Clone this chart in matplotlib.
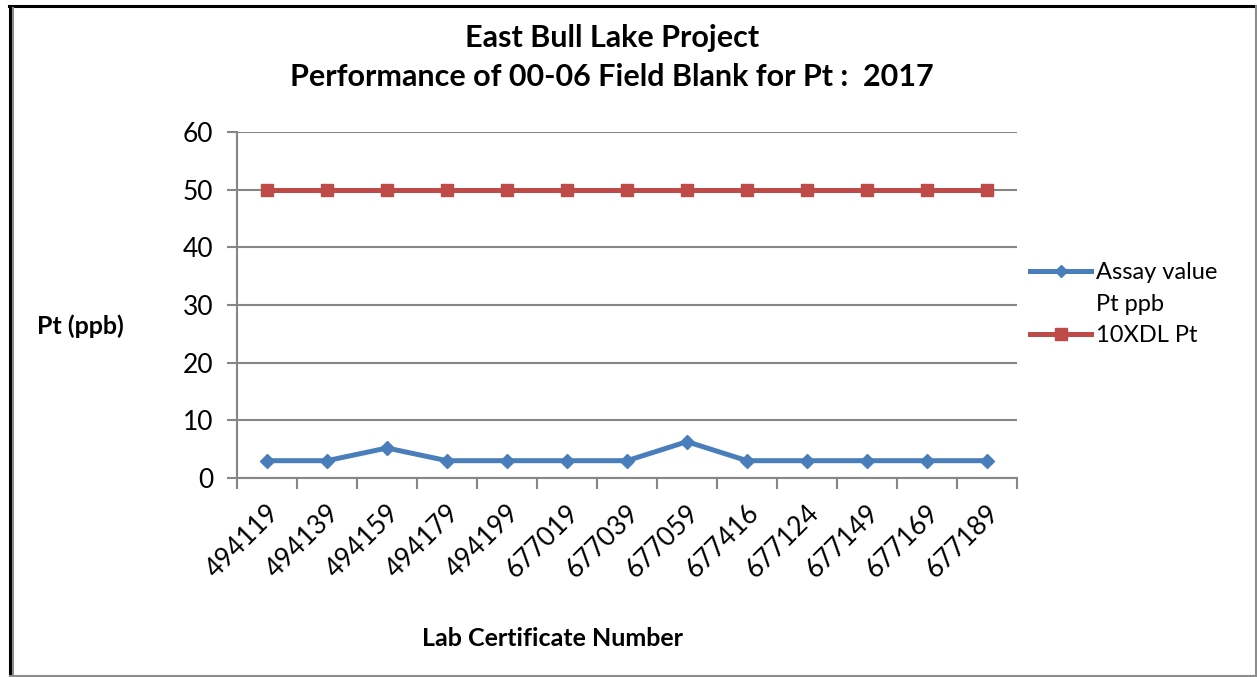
import matplotlib
matplotlib.use("Agg")
import matplotlib.pyplot as plt
from matplotlib.lines import Line2D
from matplotlib.ticker import FixedLocator
from matplotlib.transforms import ScaledTranslation

categories = ["494119", "494139", "494159", "494179", "494199", "677019", "677039",
              "677059", "677416", "677124", "677149", "677169", "677189"]
assay = [3, 3, 5.2, 3, 3, 3, 3, 6.3, 3, 3, 3, 3, 3]
xdl10 = [50] * 13

plt.rcParams['font.family'] = ['Lato', 'DejaVu Sans']

W, H = 1257, 677
fig = plt.figure(figsize=(W / 100, H / 100), dpi=100)
ax = fig.add_axes([237 / W, 1 - 478 / H, (1017 - 237) / W, (478 - 132) / H])

blue = "#4A7EBB"
red = "#BE4B48"
x = list(range(len(categories)))
ax.plot(x, assay, color=blue, lw=3.6, marker="D", ms=7, zorder=3)
ax.plot(x, xdl10, color=red, lw=3.6, marker="s", ms=9, zorder=3)

ax.set_xlim(-0.5, len(categories) - 0.5)
ax.set_ylim(0, 60)
ax.set_yticks(range(0, 61, 10))
ax.yaxis.grid(True, color="#868686", lw=1.5)
ax.set_axisbelow(True)
for s in ["top", "right"]:
    ax.spines[s].set_visible(False)
for s in ["left", "bottom"]:
    ax.spines[s].set_color("#868686")
    ax.spines[s].set_linewidth(1.5)
ax.tick_params(axis="y", length=7, width=1.5, color="#868686", labelsize=19, pad=10)

ax.set_xticks(x)
ax.set_xticklabels(categories, rotation=45, ha="right", va="center",
                   rotation_mode="anchor", fontsize=19)
ax.tick_params(axis="x", which="major", length=0, pad=22)
offset = ScaledTranslation(8 / 100, 0, fig.dpi_scale_trans)
for lab in ax.get_xticklabels():
    lab.set_transform(lab.get_transform() + offset)
ax.xaxis.set_minor_locator(FixedLocator([i - 0.5 for i in range(len(categories) + 1)]))
ax.tick_params(axis="x", which="minor", length=8, width=1.5, color="#868686")

fig.text(612 / W, 1 - 38 / H, "East Bull Lake Project", ha="center", va="center",
         fontsize=22, fontweight="bold")
fig.text(612 / W, 1 - 77 / H, "Performance of 00-06 Field Blank for Pt :  2017",
         ha="center", va="center", fontsize=22, fontweight="bold")
fig.text(80 / W, 1 - 326 / H, "Pt (ppb)", ha="center", va="center",
         fontsize=18, fontweight="bold")
fig.text(553 / W, 1 - 638 / H, "Lab Certificate Number", ha="center", va="center",
         fontsize=18, fontweight="bold")

handles = [Line2D([], [], color=blue, lw=3.6, marker="D", ms=6),
           Line2D([], [], color="none"),
           Line2D([], [], color=red, lw=3.6, marker="s", ms=8)]
labels = ["Assay value", "Pt ppb", "10XDL Pt"]
leg = fig.legend(handles, labels, loc="upper left", bbox_to_anchor=(1030 / W, 1 - 262 / H),
                 frameon=False, fontsize=17, handlelength=2.6, handletextpad=0.2,
                 labelspacing=0.45, borderaxespad=0, borderpad=0)

# figure frame
fig.add_artist(Line2D([10 / W, 10 / W], [0, 1 - 6 / H], color="black", lw=2.2,
                      transform=fig.transFigure))
fig.add_artist(Line2D([9 / W, 1256 / W], [1 - 6 / H, 1 - 6 / H], color="black", lw=2.2,
                      transform=fig.transFigure))
fig.add_artist(Line2D([12.5 / W, 12.5 / W], [0, 1 - 8 / H], color="#8c8c8c", lw=1.5,
                      transform=fig.transFigure))
fig.add_artist(Line2D([1255.5 / W, 1255.5 / W], [0, 1 - 6 / H], color="#8c8c8c", lw=1.5,
                      transform=fig.transFigure))
fig.add_artist(Line2D([10 / W, 1256 / W], [1.5 / H, 1.5 / H], color="#8c8c8c", lw=1.5,
                      transform=fig.transFigure))

fig.savefig("out.png", dpi=100)
